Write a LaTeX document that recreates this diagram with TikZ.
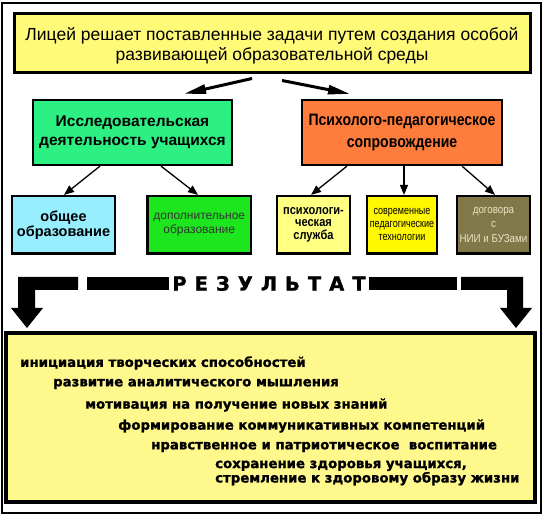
\documentclass[tikz,border=0pt]{standalone}
\usepackage{fontspec}
\setmainfont{Liberation Sans}
\newfontfamily\narrowfont[FakeStretch=0.85]{Liberation Sans}
\newfontfamily\narrowerfont[FakeStretch=0.78]{Liberation Sans}
\newfontfamily\heavyfont[BoldFeatures={FakeBold=1.3}]{DejaVu Sans}
\usetikzlibrary{arrows.meta,calc}
\definecolor{topY}{RGB}{255,250,120}
\definecolor{sprG}{RGB}{45,240,130}
\definecolor{orngC}{RGB}{255,125,60}
\definecolor{cyanC}{RGB}{150,238,255}
\definecolor{brG}{RGB}{30,230,30}
\definecolor{lyC}{RGB}{255,255,130}
\definecolor{yelC}{RGB}{255,248,0}
\definecolor{oliveC}{RGB}{128,120,72}
\definecolor{oliveT}{RGB}{232,228,195}
\definecolor{botY}{RGB}{255,248,140}
\tikzset{
  box/.style={draw=black, line width=2.2pt, inner sep=0pt, align=center},
  arr/.style={-{Triangle[length=10pt,width=8pt]}, line width=1.3pt},
  bigarr/.style={-{Triangle[length=22pt,width=9pt]}, line width=3pt},
  resline/.style={anchor=west, inner sep=0pt, font=\heavyfont\bfseries\fontsize{13.3}{10.5}\selectfont}
}
\begin{document}
\begin{tikzpicture}[x=1pt,y=-1pt]
\useasboundingbox (0,0) rectangle (544,518);
\fill[white] (0,0) rectangle (544,518);
\draw[line width=1.5pt] (2,3) rectangle (541,513);

\node[box, fill=topY, line width=3pt, minimum width=516pt, minimum height=59pt] (top) at (272,43.5) {};
\node[inner sep=0pt, align=center, font=\fontsize{17.5}{20}\selectfont] (toptext) at (272,45.5)
  {Лицей решает поставленные задачи путем создания особой\\развивающей образовательной среды};

\node[box, fill=sprG, minimum width=199pt, minimum height=65pt,
      font=\bfseries\fontsize{15.5}{19.5}\selectfont] (green) at (132.5,132.5)
  {Исследовательская\\деятельность учащихся};
\node[box, fill=orngC, minimum width=200pt, minimum height=65pt,
      font=\narrowfont\bfseries\fontsize{16.5}{21.5}\selectfont] (orange) at (402,132.5)
  {Психолого-педагогическое\\сопровождение};

\node[box, fill=cyanC, minimum width=103pt, minimum height=57.5pt,
      font=\bfseries\fontsize{14.5}{15}\selectfont] (cyan) at (63.5,224.75)
  {общее\\образование};
\node[box, fill=brG, minimum width=103.5pt, minimum height=57.5pt, text=black!80,
      font=\fontsize{12}{13.5}\selectfont] (green2) at (199.25,224.75)
  {дополнительное\\образование};
\node[box, fill=lyC, minimum width=73pt, minimum height=57.5pt,
      font=\narrowfont\bfseries\fontsize{13}{12.5}\selectfont] (ly) at (313.5,224.75)
  {психологи-\\ческая\\служба};
\node[box, fill=yelC, minimum width=70pt, minimum height=57.5pt,
      font=\narrowerfont\fontsize{11.5}{12.8}\selectfont] (yel) at (402,224.75)
  {современные\\педагогические\\технологии};
\node[box, fill=oliveC, minimum width=73pt, minimum height=57.5pt, text=oliveT,
      font=\narrowfont\fontsize{11.5}{14.5}\selectfont] (olive) at (493.5,224.75)
  {договора\\с\\НИИ и БУЗами};

\draw[bigarr] ($(top.south)+(-20,4)$) -- ($(green.north)+(51.5,-5)$);
\draw[bigarr] ($(top.south)+(10,6)$) -- ($(orange.north)+(-52,-5)$);

\draw[arr] ($(green.south)+(-32.5,0)$) -- ($(cyan.north)+(0.5,0)$);
\draw[arr] ($(green.south)+(28.5,0)$) -- ($(green2.north)+(-1.25,0)$);
\draw[arr] ($(orange.south)+(-55,0)$) -- ($(ly.north)+(-2.5,0)$);
\draw[arr] ($(orange.south)+(2,0)$) -- ($(yel.north)+(2,0)$);
\draw[arr] ($(orange.south)+(60,0)$) -- ($(olive.north)+(1.5,0)$);

% RESULTAT bar
\def\rs{\hspace{8pt}}
\node[inner sep=0pt, font=\heavyfont\bfseries\fontsize{19.5}{20}\selectfont] (res) at (269,283.5)
  {Р\rs Е\rs З\rs У\rs Л\rs Ь\rs Т\rs А\rs Т};
\fill (18,277) -- (78,277) -- (78,290) -- (35,290) -- (35,308) -- (43,308) -- (27,328)
  -- (11,308) -- (18,308) -- cycle;
\fill (87,277) rectangle ([xshift=-3pt]res.west |- 0,290);
\fill ([xshift=3pt]res.east |- 0,277) rectangle (457,290);
\fill (461,277) -- (523,277) -- (523,308) -- (532,308) -- (516,328) -- (500,308)
  -- (507,308) -- (507,290) -- (461,290) -- cycle;

\node[box, fill=botY, line width=3.5pt, minimum width=529pt, minimum height=169pt] (bot) at (270.5,417.5) {};
\node[resline] (l1) at (20,363) {инициация творческих способностей};
\node[resline] (l2) at (53,384) {развитие аналитического мышления};
\node[resline] (l3) at (85,405) {мотивация на получение новых знаний};
\node[resline] (l4) at (118,426) {формирование коммуникативных компетенций};
\node[resline] (l5) at (151,447) {нравственное и патриотическое\ \ воспитание};
\node[resline, align=left] (l6) at (215,473) {сохранение здоровья учащихся,\\стремление к здоровому образу жизни};
\end{tikzpicture}
\end{document}
